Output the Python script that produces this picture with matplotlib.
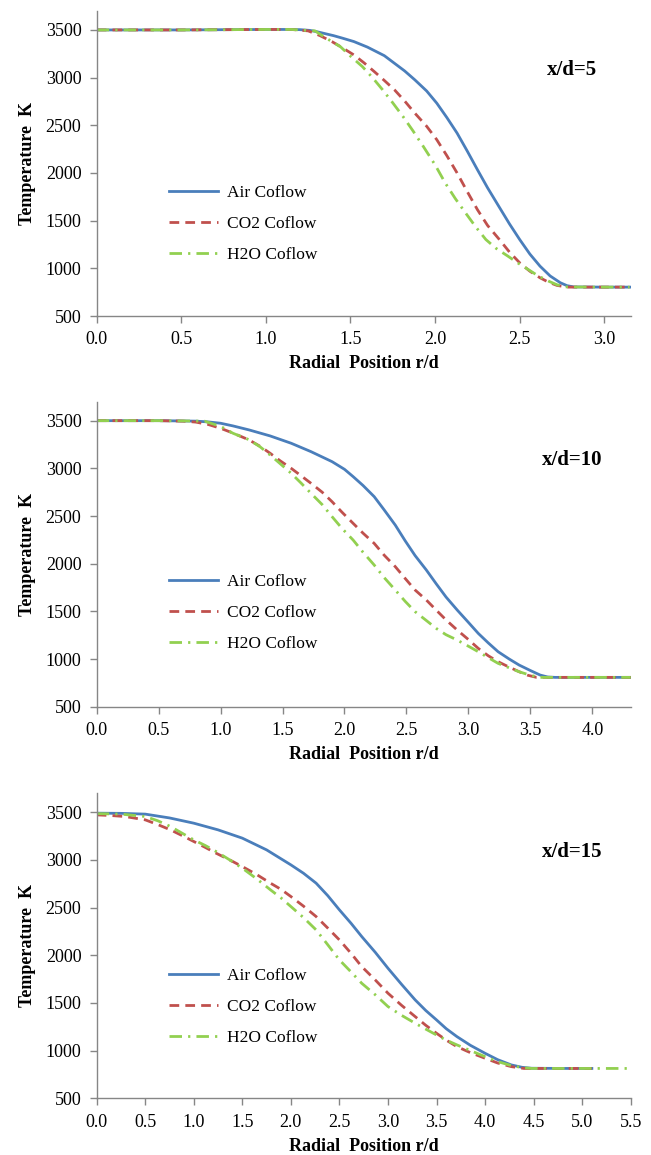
import matplotlib
matplotlib.use("Agg")
import matplotlib.pyplot as plt

plt.rcParams['font.family'] = ['Liberation Serif', 'DejaVu Serif']

# ---- x/d = 5 ----
air5_x = [0.0, 0.5, 1.0, 1.1, 1.2, 1.26, 1.3, 1.4, 1.45, 1.52, 1.6, 1.7, 1.76, 1.82, 1.88, 1.95, 2.01, 2.07,
          2.13, 2.19, 2.25, 2.31, 2.38, 2.44, 2.50, 2.56, 2.62, 2.68, 2.74, 2.78, 2.82, 3.0, 3.15]
air5_y = [3500, 3500, 3505, 3505, 3503, 3495, 3482, 3440, 3415, 3378, 3320, 3230, 3150, 3070, 2977, 2860, 2732, 2580,
          2418, 2230, 2035, 1845, 1640, 1465, 1302, 1150, 1023, 920, 849, 818, 805, 803, 803]
co25_x = [0.0, 0.5, 1.0, 1.15, 1.25, 1.32, 1.39, 1.45, 1.52, 1.58, 1.64, 1.70, 1.76, 1.82, 1.88, 1.95, 2.01, 2.07,
          2.13, 2.19, 2.25, 2.31, 2.38, 2.44, 2.50, 2.56, 2.62, 2.67, 2.72, 2.78, 3.0, 3.15]
co25_y = [3500, 3500, 3505, 3505, 3490, 3440, 3378, 3315, 3238, 3155, 3064, 2970, 2872, 2755, 2628, 2490, 2349, 2180,
          2000, 1805, 1616, 1450, 1302, 1170, 1058, 970, 901, 855, 821, 803, 803, 803]
h2o5_x = [0.0, 0.5, 1.0, 1.15, 1.29, 1.36, 1.44, 1.50, 1.57, 1.63, 1.69, 1.75, 1.81, 1.87, 1.93, 2.0, 2.06, 2.12,
          2.18, 2.24, 2.30, 2.36, 2.43, 2.49, 2.55, 2.61, 2.67, 2.72, 2.77, 3.0, 3.15]
h2o5_y = [3500, 3500, 3505, 3505, 3490, 3410, 3325, 3225, 3116, 3000, 2872, 2735, 2593, 2440, 2279, 2085, 1895, 1730,
          1581, 1435, 1302, 1210, 1128, 1055, 988, 920, 866, 828, 805, 803, 803]

# ---- x/d = 10 ----
air10_x = [0.0, 0.5, 0.8, 0.9, 1.0, 1.1, 1.23, 1.4, 1.57, 1.73, 1.90, 2.0, 2.07, 2.15, 2.24, 2.32, 2.41, 2.49,
           2.57, 2.66, 2.74, 2.82, 2.91, 3.0, 3.08, 3.16, 3.24, 3.33, 3.41, 3.5, 3.58, 3.64, 3.70, 4.0, 4.31]
air10_y = [3500, 3500, 3495, 3487, 3473, 3445, 3403, 3340, 3263, 3175, 3070, 2990, 2913, 2820, 2703, 2565, 2405, 2240,
           2085, 1935, 1790, 1650, 1514, 1385, 1269, 1170, 1077, 1000, 937, 880, 832, 812, 808, 808, 808]
co210_x = [0.0, 0.5, 0.7, 0.8, 0.9, 1.0, 1.1, 1.23, 1.32, 1.40, 1.48, 1.57, 1.65, 1.73, 1.82, 1.90, 1.98, 2.07,
           2.15, 2.24, 2.32, 2.41, 2.49, 2.57, 2.66, 2.74, 2.82, 2.91, 3.0, 3.08, 3.16, 3.24, 3.33, 3.41, 3.48, 3.55,
           4.0, 4.31]
co210_y = [3500, 3500, 3495, 3485, 3460, 3420, 3370, 3298, 3230, 3158, 3080, 3000, 2922, 2843, 2750, 2650, 2540, 2423,
           2320, 2213, 2090, 1969, 1845, 1724, 1620, 1514, 1410, 1304, 1205, 1112, 1035, 972, 915, 867, 830, 808,
           808, 808]
h2o10_x = [0.0, 0.5, 0.87, 1.0, 1.10, 1.23, 1.32, 1.40, 1.48, 1.57, 1.65, 1.73, 1.82, 1.90, 1.98, 2.07, 2.15, 2.24,
           2.32, 2.41, 2.49, 2.57, 2.66, 2.74, 2.82, 2.91, 3.0, 3.08, 3.16, 3.24, 3.33, 3.41, 3.5, 3.58, 4.0, 4.31]
h2o10_y = [3500, 3500, 3495, 3440, 3368, 3300, 3225, 3140, 3050, 2948, 2845, 2738, 2620, 2493, 2370, 2248, 2120, 1986,
           1855, 1724, 1605, 1497, 1405, 1322, 1255, 1199, 1135, 1077, 1015, 955, 908, 867, 830, 808, 808, 808]

# ---- x/d = 15 ----
air15_x = [0.0, 0.25, 0.5, 0.75, 1.0, 1.25, 1.5, 1.75, 2.0, 2.13, 2.26, 2.38, 2.5, 2.62, 2.73, 2.87, 3.0, 3.14,
           3.28, 3.39, 3.5, 3.6, 3.71, 3.85, 4.0, 4.13, 4.27, 4.38, 4.48, 4.8, 5.1]
air15_y = [3490, 3488, 3480, 3440, 3385, 3315, 3228, 3105, 2948, 2860, 2756, 2625, 2476, 2335, 2196, 2030, 1864, 1695,
           1532, 1420, 1322, 1230, 1147, 1055, 972, 905, 850, 825, 815, 813, 813]
co215_x = [0.0, 0.15, 0.29, 0.5, 0.63, 0.76, 0.88, 1.0, 1.12, 1.23, 1.37, 1.5, 1.65, 1.79, 1.9, 2.0, 2.13, 2.26,
           2.38, 2.5, 2.62, 2.73, 2.87, 3.0, 3.14, 3.28, 3.39, 3.5, 3.6, 3.71, 3.85, 4.0, 4.13, 4.27, 4.4, 4.8, 5.1]
co215_y = [3472, 3465, 3455, 3420, 3370, 3315, 3255, 3193, 3130, 3070, 3000, 2930, 2845, 2756, 2690, 2616, 2515, 2406,
           2285, 2161, 2020, 1881, 1740, 1602, 1475, 1357, 1265, 1182, 1110, 1042, 978, 920, 870, 832, 813, 813, 813]
h2o15_x = [0.0, 0.25, 0.5, 0.63, 0.76, 0.88, 1.0, 1.12, 1.23, 1.37, 1.5, 1.65, 1.79, 1.9, 2.0, 2.13, 2.26, 2.38,
           2.5, 2.62, 2.73, 2.87, 3.0, 3.14, 3.28, 3.39, 3.5, 3.6, 3.71, 3.85, 4.0, 4.13, 4.27, 4.38, 4.48, 5.0, 5.47]
h2o15_y = [3485, 3480, 3455, 3410, 3350, 3280, 3210, 3150, 3088, 3000, 2913, 2800, 2686, 2600, 2511, 2395, 2266, 2110,
           1951, 1825, 1706, 1585, 1462, 1370, 1287, 1225, 1164, 1110, 1060, 1000, 937, 885, 843, 822, 813, 813, 813]

labels = ["Air Coflow", "CO2 Coflow", "H2O Coflow"]
titles = ["x/d=5", "x/d=10", "x/d=15"]
xmax = [3.156, 4.31, 5.5]
xticks = [[0.0, 0.5, 1.0, 1.5, 2.0, 2.5, 3.0],
          [0.0, 0.5, 1.0, 1.5, 2.0, 2.5, 3.0, 3.5, 4.0],
          [0.0, 0.5, 1.0, 1.5, 2.0, 2.5, 3.0, 3.5, 4.0, 4.5, 5.0, 5.5]]
yticks = [500, 1000, 1500, 2000, 2500, 3000, 3500]

panels = [
    [(air5_x, air5_y), (co25_x, co25_y), (h2o5_x, h2o5_y)],
    [(air10_x, air10_y), (co210_x, co210_y), (h2o10_x, h2o10_y)],
    [(air15_x, air15_y), (co215_x, co215_y), (h2o15_x, h2o15_y)],
]

colors = ["#4A7EBB", "#C0504D", "#92D050"]
styles = ["-", (0, (3.5, 2.2)), (0, (4.5, 2.2, 0.8, 2.2))]
bottoms = [0.7264, 0.3881, 0.0491]
legend_y = [0.302, 0.307, 0.299]

fig = plt.figure(figsize=(6.51, 11.55), dpi=100)

for i, series in enumerate(panels):
    ax = fig.add_axes([0.1485, bottoms[i], 0.8203, 0.2642])
    for (x, y), c, ls, lab in zip(series, colors, styles, labels):
        ax.plot(x, y, color=c, linestyle=ls, linewidth=2.0, label=lab,
                solid_joinstyle="round", dash_joinstyle="round")
    ax.set_xlim(0, xmax[i])
    ax.set_ylim(500, 3700)
    ax.set_xticks(xticks[i])
    ax.set_xticklabels([f"{t:.1f}" for t in xticks[i]])
    ax.set_yticks(yticks)
    for s in ["top", "right"]:
        ax.spines[s].set_visible(False)
    for s in ["left", "bottom"]:
        ax.spines[s].set_color("#868686")
        ax.spines[s].set_linewidth(1.0)
    ax.tick_params(direction="out", length=5, width=1, color="#868686",
                   labelsize=13, pad=6)
    ax.set_xlabel("Radial  Position r/d", fontsize=13, fontweight="bold", labelpad=5)
    ax.set_ylabel("Temperature  K", fontsize=13, fontweight="bold", labelpad=7)
    ax.text(0.89, 0.807, titles[i], transform=ax.transAxes, fontsize=15,
            fontweight="bold", ha="center", va="center")
    ax.legend(loc="center left", bbox_to_anchor=(0.136, legend_y[i]), frameon=False,
              fontsize=12.5, handlelength=2.8, handletextpad=0.5, labelspacing=0.85,
              borderpad=0, borderaxespad=0)

fig.savefig("out.png", dpi=100)
